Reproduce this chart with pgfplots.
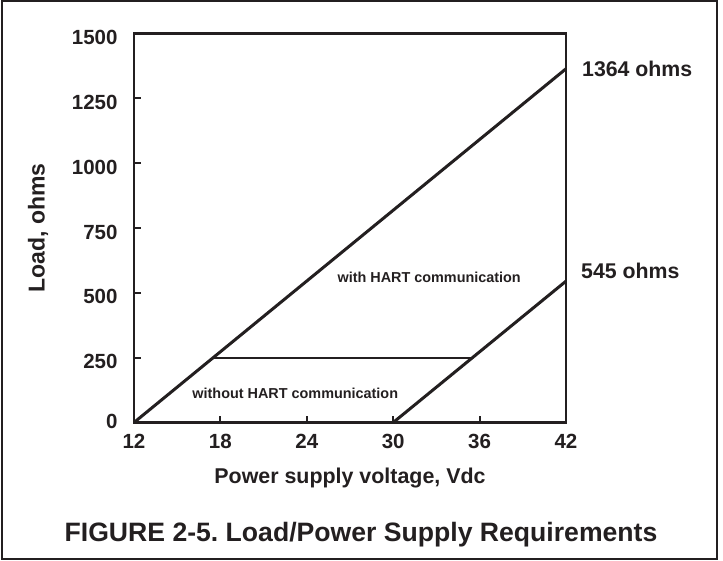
\documentclass[border=0pt]{standalone}
\usepackage{fontspec}
\setmainfont{Liberation Sans}
\usepackage{pgfplots}
\pgfplotsset{compat=1.18}
\definecolor{ink}{RGB}{35,31,32}
\frenchspacing
\begin{document}
\begin{tikzpicture}
\useasboundingbox (-134pt,-137.5pt) rectangle (589pt,422.5pt);
\draw[ink, line width=2pt] (-132pt,-136pt) rectangle (583pt,421pt);
\begin{axis}[
  at={(0pt,0pt)}, anchor=south west,
  scale only axis, width=432pt, height=389pt,
  xmin=12, xmax=42, ymin=0, ymax=1500,
  clip mode=individual,
  xtick={12,18,24,30,36,42}, xticklabels={12,18,24,30,36,42},
  ytick={0,250,500,750,1000,1250,1500}, yticklabels={\raisebox{10pt}{0},250,500,750,1000,1250,1500},
  tick align=inside, xtick pos=lower, ytick pos=left,
  major tick length=7pt,
  axis line style={line width=2.5pt, ink, line cap=rect},
  every tick/.style={line width=2pt, ink},
  ticklabel style={font=\fontsize{20.5pt}{24pt}\selectfont\bfseries, text=ink},
  yticklabel style={anchor=east, xshift=-13pt, yshift=-4pt},
  xticklabel style={anchor=north, yshift=-8pt},
  xlabel={Power supply voltage, Vdc},
  ylabel={Load, ohms},
  xlabel style={font=\fontsize{21.4pt}{25pt}\selectfont\bfseries, text=ink, at={(axis description cs:0.5,0)}, anchor=base, yshift=-60.5pt},
  ylabel style={font=\fontsize{23pt}{27pt}\selectfont\bfseries, text=ink, at={(axis description cs:0,0.5)}, anchor=center, yshift=96pt},
]
\addplot[ink, line width=3pt] coordinates {(12,0) (42,1364)};
\addplot[ink, line width=3pt] coordinates {(30,0) (42,545)};
\addplot[ink, line width=2pt] coordinates {(17.5,250) (35.5,250)};
\node[font=\fontsize{14.4pt}{17pt}\selectfont\bfseries, text=ink] at (axis cs:32.5,561) {with HART communication};
\node[font=\fontsize{14.4pt}{17pt}\selectfont\bfseries, text=ink] at (axis cs:23.2,114) {without HART communication};
\node[font=\fontsize{21.3pt}{25pt}\selectfont\bfseries, text=ink, anchor=west, inner sep=0pt, xshift=16pt] at (axis cs:42,1364) {1364 ohms};
\node[font=\fontsize{21.3pt}{25pt}\selectfont\bfseries, text=ink, anchor=west, inner sep=0pt, xshift=15pt, yshift=10pt] at (axis cs:42,545) {545 ohms};
\end{axis}
\node[anchor=base, font=\fontsize{26.6pt}{30pt}\selectfont\bfseries, text=ink] at (227pt,-118.5pt) {FIGURE 2-5. Load/Power Supply Requirements};
\end{tikzpicture}
\end{document}
